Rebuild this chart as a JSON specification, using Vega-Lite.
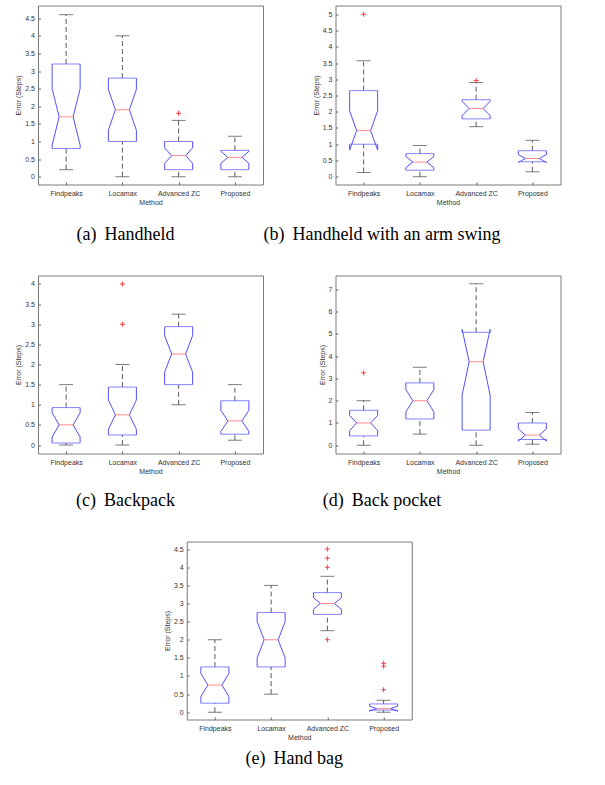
{
  "$schema": "https://vega.github.io/schema/vega-lite/v6.json",
  "background": "white",
  "padding": {"left": 14, "top": 4.5, "right": 5, "bottom": 5},
  "datasets": {
    "boxes": [
      {"panel": "a", "method": "Findpeaks", "lo": 0.2, "q1": 0.8, "med": 1.7, "q3": 3.2, "hi": 4.6, "nlo": 0.9, "nhi": 2.5},
      {"panel": "a", "method": "Locamax", "lo": 0, "q1": 1.0, "med": 1.9, "q3": 2.8, "hi": 4.0, "nlo": 1.32, "nhi": 2.48},
      {"panel": "a", "method": "Advanced ZC", "lo": 0, "q1": 0.2, "med": 0.6, "q3": 1.0, "hi": 1.6, "nlo": 0.38, "nhi": 0.82},
      {"panel": "a", "method": "Proposed", "lo": 0, "q1": 0.2, "med": 0.55, "q3": 0.75, "hi": 1.15, "nlo": 0.38, "nhi": 0.72},
      {"panel": "b", "method": "Findpeaks", "lo": 0.13, "q1": 1.0, "med": 1.42, "q3": 2.65, "hi": 3.57, "nlo": 0.82, "nhi": 2.03},
      {"panel": "b", "method": "Locamax", "lo": 0, "q1": 0.2, "med": 0.45, "q3": 0.71, "hi": 0.96, "nlo": 0.28, "nhi": 0.62},
      {"panel": "b", "method": "Advanced ZC", "lo": 1.54, "q1": 1.78, "med": 2.1, "q3": 2.37, "hi": 2.9, "nlo": 1.88, "nhi": 2.32},
      {"panel": "b", "method": "Proposed", "lo": 0.15, "q1": 0.46, "med": 0.56, "q3": 0.8, "hi": 1.12, "nlo": 0.44, "nhi": 0.68},
      {"panel": "c", "method": "Findpeaks", "lo": 0, "q1": 0.05, "med": 0.5, "q3": 0.93, "hi": 1.5, "nlo": 0.2, "nhi": 0.8},
      {"panel": "c", "method": "Locamax", "lo": 0, "q1": 0.25, "med": 0.75, "q3": 1.44, "hi": 2.0, "nlo": 0.39, "nhi": 1.12},
      {"panel": "c", "method": "Advanced ZC", "lo": 1.0, "q1": 1.5, "med": 2.26, "q3": 2.94, "hi": 3.25, "nlo": 1.81, "nhi": 2.72},
      {"panel": "c", "method": "Proposed", "lo": 0.12, "q1": 0.27, "med": 0.6, "q3": 1.1, "hi": 1.5, "nlo": 0.34, "nhi": 0.86},
      {"panel": "d", "method": "Findpeaks", "lo": 0, "q1": 0.42, "med": 1.0, "q3": 1.57, "hi": 2.0, "nlo": 0.66, "nhi": 1.34},
      {"panel": "d", "method": "Locamax", "lo": 0.5, "q1": 1.18, "med": 2.0, "q3": 2.8, "hi": 3.5, "nlo": 1.5, "nhi": 2.5},
      {"panel": "d", "method": "Advanced ZC", "lo": 0, "q1": 0.68, "med": 3.75, "q3": 5.07, "hi": 7.25, "nlo": 2.25, "nhi": 5.2},
      {"panel": "d", "method": "Proposed", "lo": 0.05, "q1": 0.26, "med": 0.46, "q3": 1.0, "hi": 1.47, "nlo": 0.19, "nhi": 0.73},
      {"panel": "e", "method": "Findpeaks", "lo": 0, "q1": 0.25, "med": 0.75, "q3": 1.25, "hi": 2.0, "nlo": 0.43, "nhi": 1.07},
      {"panel": "e", "method": "Locamax", "lo": 0.5, "q1": 1.25, "med": 2.0, "q3": 2.75, "hi": 3.5, "nlo": 1.5, "nhi": 2.5},
      {"panel": "e", "method": "Advanced ZC", "lo": 2.25, "q1": 2.7, "med": 3.0, "q3": 3.3, "hi": 3.75, "nlo": 2.84, "nhi": 3.16},
      {"panel": "e", "method": "Proposed", "lo": 0, "q1": 0.06, "med": 0.1, "q3": 0.23, "hi": 0.33, "nlo": 0.03, "nhi": 0.17}
    ],
    "outliers": [
      {"panel": "a", "method": "Advanced ZC", "value": 1.8},
      {"panel": "b", "method": "Findpeaks", "value": 5.0},
      {"panel": "b", "method": "Advanced ZC", "value": 2.96},
      {"panel": "c", "method": "Locamax", "value": 4.0},
      {"panel": "c", "method": "Locamax", "value": 3.0},
      {"panel": "d", "method": "Findpeaks", "value": 3.25},
      {"panel": "e", "method": "Advanced ZC", "value": 4.5},
      {"panel": "e", "method": "Advanced ZC", "value": 4.25},
      {"panel": "e", "method": "Advanced ZC", "value": 4.0},
      {"panel": "e", "method": "Advanced ZC", "value": 2.0},
      {"panel": "e", "method": "Proposed", "value": 1.35},
      {"panel": "e", "method": "Proposed", "value": 1.27},
      {"panel": "e", "method": "Proposed", "value": 0.62}
    ]
  },
  "vconcat": [
    {
      "hconcat": [
        {
          "width": 225, "height": 179,
          "title": {"text": "(a) \u2009Handheld", "orient": "bottom", "dx": -25, "offset": 20},
          "data": {"name": "boxes"},
          "transform": [{"filter": "datum.panel === 'a'"}],
          "encoding": {"x": {"field": "method", "type": "nominal", "title": "Method", "scale": {"type": "point", "padding": 0.5, "domain": ["Findpeaks", "Locamax", "Advanced ZC", "Proposed"]}}},
          "layer": [
            {"mark": {"type": "rule", "color": "#5a5a5a", "strokeDash": [5, 3]}, "encoding": {"y": {"field": "q3", "type": "quantitative", "title": "Error (Steps)", "scale": {"domain": [-0.22, 4.86], "nice": false, "zero": false}, "axis": {"values": [0, 0.5, 1, 1.5, 2, 2.5, 3, 3.5, 4, 4.5], "format": "~g"}}, "y2": {"field": "hi"}}},
            {"mark": {"type": "rule", "color": "#5a5a5a", "strokeDash": [5, 3]}, "encoding": {"y": {"field": "lo", "type": "quantitative", "axis": {"values": [0, 0.5, 1, 1.5, 2, 2.5, 3, 3.5, 4, 4.5], "format": "~g"}}, "y2": {"field": "q1"}}},
            {"transform": [{"fold": ["lo", "hi"], "as": ["stat", "val"]}], "mark": {"type": "tick", "orient": "horizontal", "size": 14, "thickness": 1, "color": "#444444"}, "encoding": {"y": {"field": "val", "type": "quantitative", "axis": {"values": [0, 0.5, 1, 1.5, 2, 2.5, 3, 3.5, 4, 4.5], "format": "~g"}}}},
            {"transform": [{"fold": ["q1", "q3"], "as": ["stat", "val"]}], "mark": {"type": "tick", "orient": "horizontal", "size": 28, "thickness": 1, "color": "#5050ff"}, "encoding": {"y": {"field": "val", "type": "quantitative", "axis": {"values": [0, 0.5, 1, 1.5, 2, 2.5, 3, 3.5, 4, 4.5], "format": "~g"}}}},
            {"mark": {"type": "rule", "color": "#5050ff", "xOffset": -14}, "encoding": {"y": {"field": "q3", "type": "quantitative", "axis": {"values": [0, 0.5, 1, 1.5, 2, 2.5, 3, 3.5, 4, 4.5], "format": "~g"}}, "y2": {"field": "nhi"}}},
            {"mark": {"type": "rule", "color": "#5050ff", "xOffset": 14}, "encoding": {"y": {"field": "q3", "type": "quantitative", "axis": {"values": [0, 0.5, 1, 1.5, 2, 2.5, 3, 3.5, 4, 4.5], "format": "~g"}}, "y2": {"field": "nhi"}}},
            {"mark": {"type": "rule", "color": "#5050ff", "xOffset": -14}, "encoding": {"y": {"field": "nlo", "type": "quantitative", "axis": {"values": [0, 0.5, 1, 1.5, 2, 2.5, 3, 3.5, 4, 4.5], "format": "~g"}}, "y2": {"field": "q1"}}},
            {"mark": {"type": "rule", "color": "#5050ff", "xOffset": 14}, "encoding": {"y": {"field": "nlo", "type": "quantitative", "axis": {"values": [0, 0.5, 1, 1.5, 2, 2.5, 3, 3.5, 4, 4.5], "format": "~g"}}, "y2": {"field": "q1"}}},
            {"mark": {"type": "rule", "color": "#5050ff", "xOffset": -14, "x2Offset": -7}, "encoding": {"x2": {"field": "method"}, "y": {"field": "nhi", "type": "quantitative", "axis": {"values": [0, 0.5, 1, 1.5, 2, 2.5, 3, 3.5, 4, 4.5], "format": "~g"}}, "y2": {"field": "med"}}},
            {"mark": {"type": "rule", "color": "#5050ff", "xOffset": 14, "x2Offset": 7}, "encoding": {"x2": {"field": "method"}, "y": {"field": "nhi", "type": "quantitative", "axis": {"values": [0, 0.5, 1, 1.5, 2, 2.5, 3, 3.5, 4, 4.5], "format": "~g"}}, "y2": {"field": "med"}}},
            {"mark": {"type": "rule", "color": "#5050ff", "xOffset": -14, "x2Offset": -7}, "encoding": {"x2": {"field": "method"}, "y": {"field": "nlo", "type": "quantitative", "axis": {"values": [0, 0.5, 1, 1.5, 2, 2.5, 3, 3.5, 4, 4.5], "format": "~g"}}, "y2": {"field": "med"}}},
            {"mark": {"type": "rule", "color": "#5050ff", "xOffset": 14, "x2Offset": 7}, "encoding": {"x2": {"field": "method"}, "y": {"field": "nlo", "type": "quantitative", "axis": {"values": [0, 0.5, 1, 1.5, 2, 2.5, 3, 3.5, 4, 4.5], "format": "~g"}}, "y2": {"field": "med"}}},
            {"mark": {"type": "tick", "orient": "horizontal", "size": 14, "thickness": 1, "color": "#ff5a5a"}, "encoding": {"y": {"field": "med", "type": "quantitative", "axis": {"values": [0, 0.5, 1, 1.5, 2, 2.5, 3, 3.5, 4, 4.5], "format": "~g"}}}},
            {"data": {"name": "outliers"}, "transform": [{"filter": "datum.panel === 'a'"}], "mark": {"type": "point", "shape": "M-1,0L1,0M0,-1L0,1", "size": 25, "filled": false, "color": "#ff3b3b", "strokeWidth": 1, "opacity": 1}, "encoding": {"y": {"field": "value", "type": "quantitative", "axis": {"values": [0, 0.5, 1, 1.5, 2, 2.5, 3, 3.5, 4, 4.5], "format": "~g"}}}}
          ]
        },
        {
          "width": 225, "height": 179,
          "title": {"text": "(b) \u2009Handheld with an arm swing", "orient": "bottom", "dx": -66, "offset": 20},
          "data": {"name": "boxes"},
          "transform": [{"filter": "datum.panel === 'b'"}],
          "encoding": {"x": {"field": "method", "type": "nominal", "title": "Method", "scale": {"type": "point", "padding": 0.5, "domain": ["Findpeaks", "Locamax", "Advanced ZC", "Proposed"]}}},
          "layer": [
            {"mark": {"type": "rule", "color": "#5a5a5a", "strokeDash": [5, 3]}, "encoding": {"y": {"field": "q3", "type": "quantitative", "title": "Error (Steps)", "scale": {"domain": [-0.24, 5.27], "nice": false, "zero": false}, "axis": {"values": [0, 0.5, 1, 1.5, 2, 2.5, 3, 3.5, 4, 4.5, 5], "format": "~g"}}, "y2": {"field": "hi"}}},
            {"mark": {"type": "rule", "color": "#5a5a5a", "strokeDash": [5, 3]}, "encoding": {"y": {"field": "lo", "type": "quantitative", "axis": {"values": [0, 0.5, 1, 1.5, 2, 2.5, 3, 3.5, 4, 4.5, 5], "format": "~g"}}, "y2": {"field": "q1"}}},
            {"transform": [{"fold": ["lo", "hi"], "as": ["stat", "val"]}], "mark": {"type": "tick", "orient": "horizontal", "size": 14, "thickness": 1, "color": "#444444"}, "encoding": {"y": {"field": "val", "type": "quantitative", "axis": {"values": [0, 0.5, 1, 1.5, 2, 2.5, 3, 3.5, 4, 4.5, 5], "format": "~g"}}}},
            {"transform": [{"fold": ["q1", "q3"], "as": ["stat", "val"]}], "mark": {"type": "tick", "orient": "horizontal", "size": 28, "thickness": 1, "color": "#5050ff"}, "encoding": {"y": {"field": "val", "type": "quantitative", "axis": {"values": [0, 0.5, 1, 1.5, 2, 2.5, 3, 3.5, 4, 4.5, 5], "format": "~g"}}}},
            {"mark": {"type": "rule", "color": "#5050ff", "xOffset": -14}, "encoding": {"y": {"field": "q3", "type": "quantitative", "axis": {"values": [0, 0.5, 1, 1.5, 2, 2.5, 3, 3.5, 4, 4.5, 5], "format": "~g"}}, "y2": {"field": "nhi"}}},
            {"mark": {"type": "rule", "color": "#5050ff", "xOffset": 14}, "encoding": {"y": {"field": "q3", "type": "quantitative", "axis": {"values": [0, 0.5, 1, 1.5, 2, 2.5, 3, 3.5, 4, 4.5, 5], "format": "~g"}}, "y2": {"field": "nhi"}}},
            {"mark": {"type": "rule", "color": "#5050ff", "xOffset": -14}, "encoding": {"y": {"field": "nlo", "type": "quantitative", "axis": {"values": [0, 0.5, 1, 1.5, 2, 2.5, 3, 3.5, 4, 4.5, 5], "format": "~g"}}, "y2": {"field": "q1"}}},
            {"mark": {"type": "rule", "color": "#5050ff", "xOffset": 14}, "encoding": {"y": {"field": "nlo", "type": "quantitative", "axis": {"values": [0, 0.5, 1, 1.5, 2, 2.5, 3, 3.5, 4, 4.5, 5], "format": "~g"}}, "y2": {"field": "q1"}}},
            {"mark": {"type": "rule", "color": "#5050ff", "xOffset": -14, "x2Offset": -7}, "encoding": {"x2": {"field": "method"}, "y": {"field": "nhi", "type": "quantitative", "axis": {"values": [0, 0.5, 1, 1.5, 2, 2.5, 3, 3.5, 4, 4.5, 5], "format": "~g"}}, "y2": {"field": "med"}}},
            {"mark": {"type": "rule", "color": "#5050ff", "xOffset": 14, "x2Offset": 7}, "encoding": {"x2": {"field": "method"}, "y": {"field": "nhi", "type": "quantitative", "axis": {"values": [0, 0.5, 1, 1.5, 2, 2.5, 3, 3.5, 4, 4.5, 5], "format": "~g"}}, "y2": {"field": "med"}}},
            {"mark": {"type": "rule", "color": "#5050ff", "xOffset": -14, "x2Offset": -7}, "encoding": {"x2": {"field": "method"}, "y": {"field": "nlo", "type": "quantitative", "axis": {"values": [0, 0.5, 1, 1.5, 2, 2.5, 3, 3.5, 4, 4.5, 5], "format": "~g"}}, "y2": {"field": "med"}}},
            {"mark": {"type": "rule", "color": "#5050ff", "xOffset": 14, "x2Offset": 7}, "encoding": {"x2": {"field": "method"}, "y": {"field": "nlo", "type": "quantitative", "axis": {"values": [0, 0.5, 1, 1.5, 2, 2.5, 3, 3.5, 4, 4.5, 5], "format": "~g"}}, "y2": {"field": "med"}}},
            {"mark": {"type": "tick", "orient": "horizontal", "size": 14, "thickness": 1, "color": "#ff5a5a"}, "encoding": {"y": {"field": "med", "type": "quantitative", "axis": {"values": [0, 0.5, 1, 1.5, 2, 2.5, 3, 3.5, 4, 4.5, 5], "format": "~g"}}}},
            {"data": {"name": "outliers"}, "transform": [{"filter": "datum.panel === 'b'"}], "mark": {"type": "point", "shape": "M-1,0L1,0M0,-1L0,1", "size": 25, "filled": false, "color": "#ff3b3b", "strokeWidth": 1, "opacity": 1}, "encoding": {"y": {"field": "value", "type": "quantitative", "axis": {"values": [0, 0.5, 1, 1.5, 2, 2.5, 3, 3.5, 4, 4.5, 5], "format": "~g"}}}}
          ]
        }
      ],
      "spacing": 72.5,
      "bounds": "flush"
    },
    {
      "hconcat": [
        {
          "width": 225, "height": 178,
          "title": {"text": "(c) \u2009Backpack", "orient": "bottom", "dx": -25, "offset": 17.5},
          "data": {"name": "boxes"},
          "transform": [{"filter": "datum.panel === 'c'"}],
          "encoding": {"x": {"field": "method", "type": "nominal", "title": "Method", "scale": {"type": "point", "padding": 0.5, "domain": ["Findpeaks", "Locamax", "Advanced ZC", "Proposed"]}}},
          "layer": [
            {"mark": {"type": "rule", "color": "#5a5a5a", "strokeDash": [5, 3]}, "encoding": {"y": {"field": "q3", "type": "quantitative", "title": "Error (Steps)", "scale": {"domain": [-0.21, 4.21], "nice": false, "zero": false}, "axis": {"values": [0, 0.5, 1, 1.5, 2, 2.5, 3, 3.5, 4], "format": "~g"}}, "y2": {"field": "hi"}}},
            {"mark": {"type": "rule", "color": "#5a5a5a", "strokeDash": [5, 3]}, "encoding": {"y": {"field": "lo", "type": "quantitative", "axis": {"values": [0, 0.5, 1, 1.5, 2, 2.5, 3, 3.5, 4], "format": "~g"}}, "y2": {"field": "q1"}}},
            {"transform": [{"fold": ["lo", "hi"], "as": ["stat", "val"]}], "mark": {"type": "tick", "orient": "horizontal", "size": 14, "thickness": 1, "color": "#444444"}, "encoding": {"y": {"field": "val", "type": "quantitative", "axis": {"values": [0, 0.5, 1, 1.5, 2, 2.5, 3, 3.5, 4], "format": "~g"}}}},
            {"transform": [{"fold": ["q1", "q3"], "as": ["stat", "val"]}], "mark": {"type": "tick", "orient": "horizontal", "size": 28, "thickness": 1, "color": "#5050ff"}, "encoding": {"y": {"field": "val", "type": "quantitative", "axis": {"values": [0, 0.5, 1, 1.5, 2, 2.5, 3, 3.5, 4], "format": "~g"}}}},
            {"mark": {"type": "rule", "color": "#5050ff", "xOffset": -14}, "encoding": {"y": {"field": "q3", "type": "quantitative", "axis": {"values": [0, 0.5, 1, 1.5, 2, 2.5, 3, 3.5, 4], "format": "~g"}}, "y2": {"field": "nhi"}}},
            {"mark": {"type": "rule", "color": "#5050ff", "xOffset": 14}, "encoding": {"y": {"field": "q3", "type": "quantitative", "axis": {"values": [0, 0.5, 1, 1.5, 2, 2.5, 3, 3.5, 4], "format": "~g"}}, "y2": {"field": "nhi"}}},
            {"mark": {"type": "rule", "color": "#5050ff", "xOffset": -14}, "encoding": {"y": {"field": "nlo", "type": "quantitative", "axis": {"values": [0, 0.5, 1, 1.5, 2, 2.5, 3, 3.5, 4], "format": "~g"}}, "y2": {"field": "q1"}}},
            {"mark": {"type": "rule", "color": "#5050ff", "xOffset": 14}, "encoding": {"y": {"field": "nlo", "type": "quantitative", "axis": {"values": [0, 0.5, 1, 1.5, 2, 2.5, 3, 3.5, 4], "format": "~g"}}, "y2": {"field": "q1"}}},
            {"mark": {"type": "rule", "color": "#5050ff", "xOffset": -14, "x2Offset": -7}, "encoding": {"x2": {"field": "method"}, "y": {"field": "nhi", "type": "quantitative", "axis": {"values": [0, 0.5, 1, 1.5, 2, 2.5, 3, 3.5, 4], "format": "~g"}}, "y2": {"field": "med"}}},
            {"mark": {"type": "rule", "color": "#5050ff", "xOffset": 14, "x2Offset": 7}, "encoding": {"x2": {"field": "method"}, "y": {"field": "nhi", "type": "quantitative", "axis": {"values": [0, 0.5, 1, 1.5, 2, 2.5, 3, 3.5, 4], "format": "~g"}}, "y2": {"field": "med"}}},
            {"mark": {"type": "rule", "color": "#5050ff", "xOffset": -14, "x2Offset": -7}, "encoding": {"x2": {"field": "method"}, "y": {"field": "nlo", "type": "quantitative", "axis": {"values": [0, 0.5, 1, 1.5, 2, 2.5, 3, 3.5, 4], "format": "~g"}}, "y2": {"field": "med"}}},
            {"mark": {"type": "rule", "color": "#5050ff", "xOffset": 14, "x2Offset": 7}, "encoding": {"x2": {"field": "method"}, "y": {"field": "nlo", "type": "quantitative", "axis": {"values": [0, 0.5, 1, 1.5, 2, 2.5, 3, 3.5, 4], "format": "~g"}}, "y2": {"field": "med"}}},
            {"mark": {"type": "tick", "orient": "horizontal", "size": 14, "thickness": 1, "color": "#ff5a5a"}, "encoding": {"y": {"field": "med", "type": "quantitative", "axis": {"values": [0, 0.5, 1, 1.5, 2, 2.5, 3, 3.5, 4], "format": "~g"}}}},
            {"data": {"name": "outliers"}, "transform": [{"filter": "datum.panel === 'c'"}], "mark": {"type": "point", "shape": "M-1,0L1,0M0,-1L0,1", "size": 25, "filled": false, "color": "#ff3b3b", "strokeWidth": 1, "opacity": 1}, "encoding": {"y": {"field": "value", "type": "quantitative", "axis": {"values": [0, 0.5, 1, 1.5, 2, 2.5, 3, 3.5, 4], "format": "~g"}}}}
          ]
        },
        {
          "width": 225, "height": 178,
          "title": {"text": "(d) \u2009Back pocket", "orient": "bottom", "dx": -66, "offset": 17.5},
          "data": {"name": "boxes"},
          "transform": [{"filter": "datum.panel === 'd'"}],
          "encoding": {"x": {"field": "method", "type": "nominal", "title": "Method", "scale": {"type": "point", "padding": 0.5, "domain": ["Findpeaks", "Locamax", "Advanced ZC", "Proposed"]}}},
          "layer": [
            {"mark": {"type": "rule", "color": "#5a5a5a", "strokeDash": [5, 3]}, "encoding": {"y": {"field": "q3", "type": "quantitative", "title": "Error (Steps)", "scale": {"domain": [-0.37, 7.62], "nice": false, "zero": false}, "axis": {"values": [0, 1, 2, 3, 4, 5, 6, 7], "format": "~g"}}, "y2": {"field": "hi"}}},
            {"mark": {"type": "rule", "color": "#5a5a5a", "strokeDash": [5, 3]}, "encoding": {"y": {"field": "lo", "type": "quantitative", "axis": {"values": [0, 1, 2, 3, 4, 5, 6, 7], "format": "~g"}}, "y2": {"field": "q1"}}},
            {"transform": [{"fold": ["lo", "hi"], "as": ["stat", "val"]}], "mark": {"type": "tick", "orient": "horizontal", "size": 14, "thickness": 1, "color": "#444444"}, "encoding": {"y": {"field": "val", "type": "quantitative", "axis": {"values": [0, 1, 2, 3, 4, 5, 6, 7], "format": "~g"}}}},
            {"transform": [{"fold": ["q1", "q3"], "as": ["stat", "val"]}], "mark": {"type": "tick", "orient": "horizontal", "size": 28, "thickness": 1, "color": "#5050ff"}, "encoding": {"y": {"field": "val", "type": "quantitative", "axis": {"values": [0, 1, 2, 3, 4, 5, 6, 7], "format": "~g"}}}},
            {"mark": {"type": "rule", "color": "#5050ff", "xOffset": -14}, "encoding": {"y": {"field": "q3", "type": "quantitative", "axis": {"values": [0, 1, 2, 3, 4, 5, 6, 7], "format": "~g"}}, "y2": {"field": "nhi"}}},
            {"mark": {"type": "rule", "color": "#5050ff", "xOffset": 14}, "encoding": {"y": {"field": "q3", "type": "quantitative", "axis": {"values": [0, 1, 2, 3, 4, 5, 6, 7], "format": "~g"}}, "y2": {"field": "nhi"}}},
            {"mark": {"type": "rule", "color": "#5050ff", "xOffset": -14}, "encoding": {"y": {"field": "nlo", "type": "quantitative", "axis": {"values": [0, 1, 2, 3, 4, 5, 6, 7], "format": "~g"}}, "y2": {"field": "q1"}}},
            {"mark": {"type": "rule", "color": "#5050ff", "xOffset": 14}, "encoding": {"y": {"field": "nlo", "type": "quantitative", "axis": {"values": [0, 1, 2, 3, 4, 5, 6, 7], "format": "~g"}}, "y2": {"field": "q1"}}},
            {"mark": {"type": "rule", "color": "#5050ff", "xOffset": -14, "x2Offset": -7}, "encoding": {"x2": {"field": "method"}, "y": {"field": "nhi", "type": "quantitative", "axis": {"values": [0, 1, 2, 3, 4, 5, 6, 7], "format": "~g"}}, "y2": {"field": "med"}}},
            {"mark": {"type": "rule", "color": "#5050ff", "xOffset": 14, "x2Offset": 7}, "encoding": {"x2": {"field": "method"}, "y": {"field": "nhi", "type": "quantitative", "axis": {"values": [0, 1, 2, 3, 4, 5, 6, 7], "format": "~g"}}, "y2": {"field": "med"}}},
            {"mark": {"type": "rule", "color": "#5050ff", "xOffset": -14, "x2Offset": -7}, "encoding": {"x2": {"field": "method"}, "y": {"field": "nlo", "type": "quantitative", "axis": {"values": [0, 1, 2, 3, 4, 5, 6, 7], "format": "~g"}}, "y2": {"field": "med"}}},
            {"mark": {"type": "rule", "color": "#5050ff", "xOffset": 14, "x2Offset": 7}, "encoding": {"x2": {"field": "method"}, "y": {"field": "nlo", "type": "quantitative", "axis": {"values": [0, 1, 2, 3, 4, 5, 6, 7], "format": "~g"}}, "y2": {"field": "med"}}},
            {"mark": {"type": "tick", "orient": "horizontal", "size": 14, "thickness": 1, "color": "#ff5a5a"}, "encoding": {"y": {"field": "med", "type": "quantitative", "axis": {"values": [0, 1, 2, 3, 4, 5, 6, 7], "format": "~g"}}}},
            {"data": {"name": "outliers"}, "transform": [{"filter": "datum.panel === 'd'"}], "mark": {"type": "point", "shape": "M-1,0L1,0M0,-1L0,1", "size": 25, "filled": false, "color": "#ff3b3b", "strokeWidth": 1, "opacity": 1}, "encoding": {"y": {"field": "value", "type": "quantitative", "axis": {"values": [0, 1, 2, 3, 4, 5, 6, 7], "format": "~g"}}}}
          ]
        }
      ],
      "spacing": 72.5,
      "bounds": "flush"
    },
    {
      "width": 225, "height": 178,
      "title": {"text": "(e) \u2009Hand bag", "orient": "bottom", "dx": -5, "offset": 9},
      "data": {"name": "boxes"},
      "transform": [{"filter": "datum.panel === 'e'"}],
      "encoding": {"x": {"field": "method", "type": "nominal", "title": "Method", "scale": {"type": "point", "padding": 0.5, "domain": ["Findpeaks", "Locamax", "Advanced ZC", "Proposed"]}}},
      "layer": [
        {"mark": {"type": "rule", "color": "#5a5a5a", "strokeDash": [5, 3]}, "encoding": {"y": {"field": "q3", "type": "quantitative", "title": "Error (Steps)", "scale": {"domain": [-0.2, 4.71], "nice": false, "zero": false}, "axis": {"values": [0, 0.5, 1, 1.5, 2, 2.5, 3, 3.5, 4, 4.5], "format": "~g"}}, "y2": {"field": "hi"}}},
        {"mark": {"type": "rule", "color": "#5a5a5a", "strokeDash": [5, 3]}, "encoding": {"y": {"field": "lo", "type": "quantitative", "axis": {"values": [0, 0.5, 1, 1.5, 2, 2.5, 3, 3.5, 4, 4.5], "format": "~g"}}, "y2": {"field": "q1"}}},
        {"transform": [{"fold": ["lo", "hi"], "as": ["stat", "val"]}], "mark": {"type": "tick", "orient": "horizontal", "size": 14, "thickness": 1, "color": "#444444"}, "encoding": {"y": {"field": "val", "type": "quantitative", "axis": {"values": [0, 0.5, 1, 1.5, 2, 2.5, 3, 3.5, 4, 4.5], "format": "~g"}}}},
        {"transform": [{"fold": ["q1", "q3"], "as": ["stat", "val"]}], "mark": {"type": "tick", "orient": "horizontal", "size": 28, "thickness": 1, "color": "#5050ff"}, "encoding": {"y": {"field": "val", "type": "quantitative", "axis": {"values": [0, 0.5, 1, 1.5, 2, 2.5, 3, 3.5, 4, 4.5], "format": "~g"}}}},
        {"mark": {"type": "rule", "color": "#5050ff", "xOffset": -14}, "encoding": {"y": {"field": "q3", "type": "quantitative", "axis": {"values": [0, 0.5, 1, 1.5, 2, 2.5, 3, 3.5, 4, 4.5], "format": "~g"}}, "y2": {"field": "nhi"}}},
        {"mark": {"type": "rule", "color": "#5050ff", "xOffset": 14}, "encoding": {"y": {"field": "q3", "type": "quantitative", "axis": {"values": [0, 0.5, 1, 1.5, 2, 2.5, 3, 3.5, 4, 4.5], "format": "~g"}}, "y2": {"field": "nhi"}}},
        {"mark": {"type": "rule", "color": "#5050ff", "xOffset": -14}, "encoding": {"y": {"field": "nlo", "type": "quantitative", "axis": {"values": [0, 0.5, 1, 1.5, 2, 2.5, 3, 3.5, 4, 4.5], "format": "~g"}}, "y2": {"field": "q1"}}},
        {"mark": {"type": "rule", "color": "#5050ff", "xOffset": 14}, "encoding": {"y": {"field": "nlo", "type": "quantitative", "axis": {"values": [0, 0.5, 1, 1.5, 2, 2.5, 3, 3.5, 4, 4.5], "format": "~g"}}, "y2": {"field": "q1"}}},
        {"mark": {"type": "rule", "color": "#5050ff", "xOffset": -14, "x2Offset": -7}, "encoding": {"x2": {"field": "method"}, "y": {"field": "nhi", "type": "quantitative", "axis": {"values": [0, 0.5, 1, 1.5, 2, 2.5, 3, 3.5, 4, 4.5], "format": "~g"}}, "y2": {"field": "med"}}},
        {"mark": {"type": "rule", "color": "#5050ff", "xOffset": 14, "x2Offset": 7}, "encoding": {"x2": {"field": "method"}, "y": {"field": "nhi", "type": "quantitative", "axis": {"values": [0, 0.5, 1, 1.5, 2, 2.5, 3, 3.5, 4, 4.5], "format": "~g"}}, "y2": {"field": "med"}}},
        {"mark": {"type": "rule", "color": "#5050ff", "xOffset": -14, "x2Offset": -7}, "encoding": {"x2": {"field": "method"}, "y": {"field": "nlo", "type": "quantitative", "axis": {"values": [0, 0.5, 1, 1.5, 2, 2.5, 3, 3.5, 4, 4.5], "format": "~g"}}, "y2": {"field": "med"}}},
        {"mark": {"type": "rule", "color": "#5050ff", "xOffset": 14, "x2Offset": 7}, "encoding": {"x2": {"field": "method"}, "y": {"field": "nlo", "type": "quantitative", "axis": {"values": [0, 0.5, 1, 1.5, 2, 2.5, 3, 3.5, 4, 4.5], "format": "~g"}}, "y2": {"field": "med"}}},
        {"mark": {"type": "tick", "orient": "horizontal", "size": 14, "thickness": 1, "color": "#ff5a5a"}, "encoding": {"y": {"field": "med", "type": "quantitative", "axis": {"values": [0, 0.5, 1, 1.5, 2, 2.5, 3, 3.5, 4, 4.5], "format": "~g"}}}},
        {"data": {"name": "outliers"}, "transform": [{"filter": "datum.panel === 'e'"}], "mark": {"type": "point", "shape": "M-1,0L1,0M0,-1L0,1", "size": 25, "filled": false, "color": "#ff3b3b", "strokeWidth": 1, "opacity": 1}, "encoding": {"y": {"field": "value", "type": "quantitative", "axis": {"values": [0, 0.5, 1, 1.5, 2, 2.5, 3, 3.5, 4, 4.5], "format": "~g"}}}}
      ]
    }
  ],
  "spacing": 30,
  "center": true,
  "config": {
    "view": {"stroke": "#7a7a7a", "strokeWidth": 1},
    "axis": {
      "labelFont": "Liberation Sans", "labelFontSize": 7, "labelColor": "#333333", "labelOverlap": false,
      "titleFont": "Liberation Sans", "titleFontSize": 7, "titleFontWeight": "normal", "titleColor": "#333333",
      "grid": false, "domain": false, "tickColor": "#666666", "tickSize": -2.5
    },
    "axisX": {"labelAngle": 0, "labelPadding": 7, "titlePadding": 2.5},
    "axisY": {"labelPadding": 6, "titlePadding": 3},
    "title": {"font": "Liberation Serif", "fontSize": 18, "fontWeight": "normal", "color": "#000000", "anchor": "middle", "frame": "group"}
  }
}
